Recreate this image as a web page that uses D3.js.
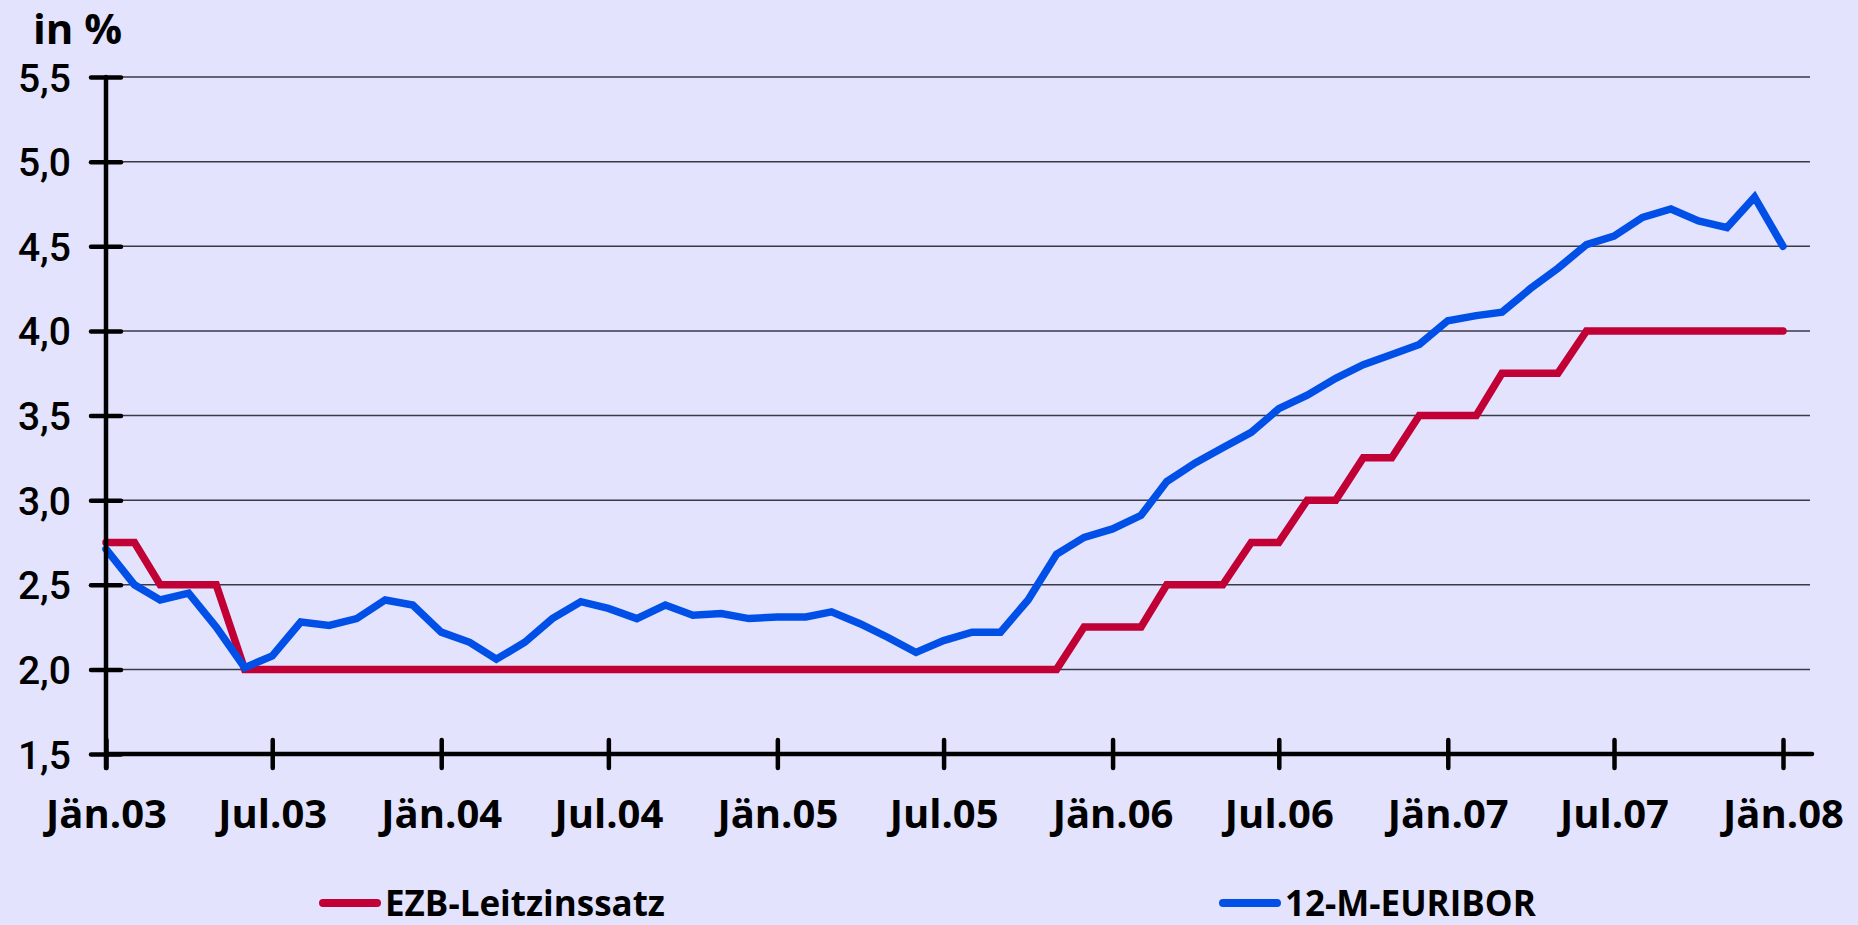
<!doctype html>
<html lang="de">

<head>
    <meta charset="utf-8">
    <title>EZB-Leitzinssatz und 12-M-EURIBOR</title>
    <script src="https://cdn.jsdelivr.net/npm/d3@7"></script>
    <style>
        html, body {
            margin: 0;
            padding: 0;
            background: #e3e3fe;
        }

        svg {
            display: block;
        }

        .grid line {
            stroke: #3a3a48;
            stroke-width: 1.5;
        }

        .axis text {
            fill: #000;
        }
    </style>
</head>

<body>
    <svg width="1858" height="925"></svg>

    <script>
        // monthly values, Jän.03 .. Jän.08
        var startMonth = new Date(2003, 0, 1);

        var ezb = [
            2.75, 2.75, 2.50, 2.50, 2.50, 2.00, 2.00, 2.00, 2.00, 2.00, 2.00, 2.00,
            2.00, 2.00, 2.00, 2.00, 2.00, 2.00, 2.00, 2.00, 2.00, 2.00, 2.00, 2.00,
            2.00, 2.00, 2.00, 2.00, 2.00, 2.00, 2.00, 2.00, 2.00, 2.00, 2.00, 2.25,
            2.25, 2.25, 2.50, 2.50, 2.50, 2.75, 2.75, 3.00, 3.00, 3.25, 3.25, 3.50,
            3.50, 3.50, 3.75, 3.75, 3.75, 4.00, 4.00, 4.00, 4.00, 4.00, 4.00, 4.00,
            4.00
        ];

        var euribor = [
            2.71, 2.50, 2.41, 2.45, 2.25, 2.01, 2.08, 2.28, 2.26, 2.30, 2.41, 2.38,
            2.22, 2.16, 2.06, 2.16, 2.30, 2.40, 2.36, 2.30, 2.38, 2.32, 2.33, 2.30,
            2.31, 2.31, 2.34, 2.27, 2.19, 2.10, 2.17, 2.22, 2.22, 2.41, 2.68, 2.78,
            2.83, 2.91, 3.11, 3.22, 3.31, 3.40, 3.54, 3.62, 3.72, 3.80, 3.86, 3.92,
            4.06, 4.09, 4.11, 4.25, 4.37, 4.51, 4.56, 4.67, 4.72, 4.65, 4.61, 4.79,
            4.50
        ];

        var xTickLabels = ["Jän.03", "Jul.03", "Jän.04", "Jul.04", "Jän.05", "Jul.05",
            "Jän.06", "Jul.06", "Jän.07", "Jul.07", "Jän.08"];
        var yTicks = [1.5, 2.0, 2.5, 3.0, 3.5, 4.0, 4.5, 5.0, 5.5];
        var seriesNames = ["EZB-Leitzinssatz", "12-M-EURIBOR"];
        var seriesColors = ["#c10036", "#0050e8"];

        function monthDate(i) {
            return d3.timeMonth.offset(startMonth, i);
        }

        var svg = d3.select("svg");

        var x = d3.scaleTime()
            .domain([startMonth, monthDate(60)])
            .range([106, 1783]);

        var y = d3.scaleLinear()
            .domain([1.5, 5.5])
            .range([754, 77]);

        var de = d3.formatLocale({ decimal: ",", thousands: ".", grouping: [3], currency: ["", " €"] });
        var fmt = de.format(".1f");

        // grid lines
        svg.append("g")
            .attr("class", "grid")
            .selectAll("line")
            .data(yTicks.filter(function (d) { return d > 1.5; }))
            .enter()
            .append("line")
            .attr("x1", x.range()[0])
            .attr("x2", 1810)
            .attr("y1", function (d) { return y(d); })
            .attr("y2", function (d) { return y(d); });

        // lines
        var line = d3.line()
            .x(function (d, i) { return x(monthDate(i)); })
            .y(function (d) { return y(d); });

        var series = [ezb, euribor];

        svg.append("g")
            .selectAll("path")
            .data(series)
            .enter()
            .append("path")
            .attr("d", line)
            .attr("fill", "none")
            .attr("stroke", function (d, i) { return seriesColors[i]; })
            .attr("stroke-width", 7.5)
            .attr("stroke-linejoin", "miter")
            .attr("stroke-linecap", "round");

        // x-axis
        var xAxis = d3.axisBottom(x)
            .tickValues(xTickLabels.map(function (d, i) { return monthDate(i * 6); }))
            .tickFormat(function (d, i) { return xTickLabels[i]; })
            .tickSizeOuter(0)
            .tickSizeInner(14)
            .tickPadding(36);

        var gx = svg.append("g")
            .attr("class", "axis")
            .attr("transform", "translate(0," + y(1.5) + ")")
            .call(xAxis);

        gx.select(".domain").remove();
        gx.append("line")
            .attr("x1", x.range()[0])
            .attr("x2", 1812)
            .attr("stroke", "#000")
            .attr("stroke-width", 4.5)
            .attr("stroke-linecap", "round");
        gx.selectAll(".tick line")
            .attr("y1", -14)
            .attr("y2", 14)
            .attr("stroke", "#000")
            .attr("stroke-width", 4.5)
            .attr("stroke-linecap", "round");
        gx.selectAll(".tick text")
            .attr("font-family", "'Open Sans', sans-serif")
            .attr("font-weight", "bold")
            .attr("font-size", "40px")
            .attr("dy", "0.71em")
            .attr("y", 46);

        // y-axis
        var yAxis = d3.axisLeft(y)
            .tickValues(yTicks)
            .tickFormat(fmt)
            .tickSizeOuter(0)
            .tickSizeInner(15)
            .tickPadding(20);

        var gy = svg.append("g")
            .attr("class", "axis")
            .attr("transform", "translate(" + x.range()[0] + ",0)")
            .call(yAxis);

        gy.select(".domain").remove();
        gy.append("line")
            .attr("y1", y(5.5))
            .attr("y2", y(1.5) + 14)
            .attr("stroke", "#000")
            .attr("stroke-width", 4.5)
            .attr("stroke-linecap", "round");
        gy.selectAll(".tick line")
            .attr("x1", -15)
            .attr("x2", 15)
            .attr("stroke", "#000")
            .attr("stroke-width", 4.5)
            .attr("stroke-linecap", "round");
        gy.selectAll(".tick text")
            .attr("font-family", "Roboto, sans-serif")
            .attr("font-weight", 500)
            .attr("font-size", "39px")
            .attr("x", -35)
            .attr("dy", "0.36em");

        // unit
        svg.append("text")
            .attr("x", 33)
            .attr("y", 44)
            .attr("font-family", "'Open Sans', sans-serif")
            .attr("font-weight", "bold")
            .attr("font-size", "42px")
            .text("in %");

        // legend
        var legendX = [323, 1223];
        var legend = svg.append("g")
            .selectAll("g")
            .data(seriesNames)
            .enter()
            .append("g")
            .attr("transform", function (d, i) { return "translate(" + legendX[i] + ",903)"; });

        legend.append("line")
            .attr("x1", 0)
            .attr("x2", 54)
            .attr("stroke", function (d, i) { return seriesColors[i]; })
            .attr("stroke-width", 8)
            .attr("stroke-linecap", "round");

        legend.append("text")
            .attr("x", 62)
            .attr("y", 13)
            .attr("font-family", "'Open Sans', sans-serif")
            .attr("font-weight", "bold")
            .attr("font-size", "35px")
            .text(function (d) { return d; });
    </script>

</body>

</html>
